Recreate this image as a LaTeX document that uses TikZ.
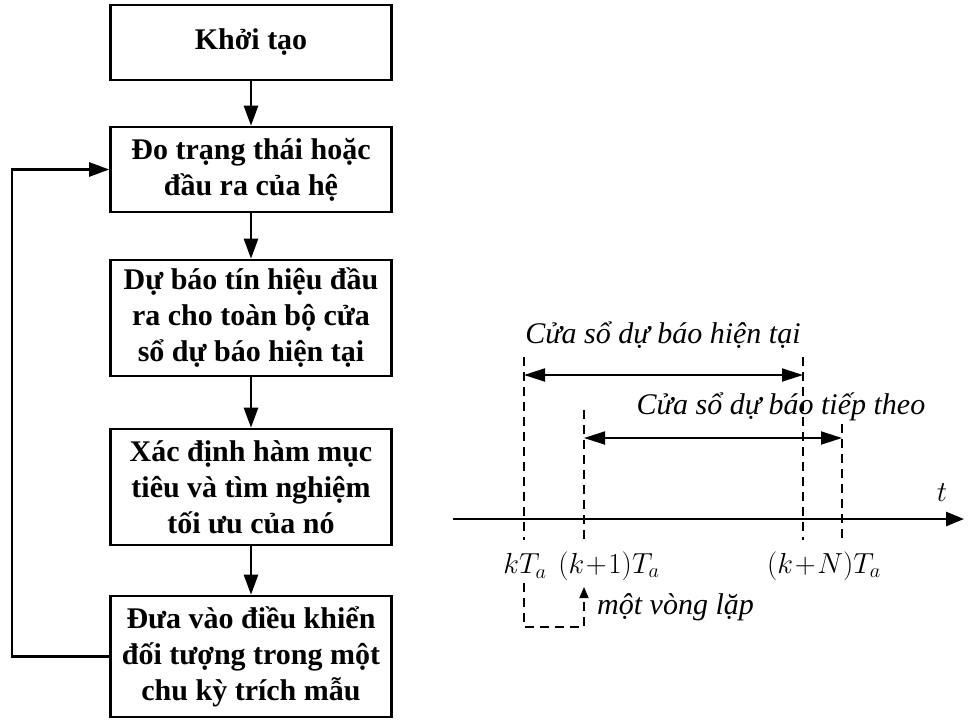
\RequirePackage{fix-cm}
\documentclass[tikz,border=0pt]{standalone}
\usepackage{fontspec}
\setmainfont{Liberation Serif}
\usetikzlibrary{arrows.meta}

\tikzset{
  stepbox/.style={draw, line width=2.6pt, minimum width=281pt, align=center,
    inner sep=0pt, font=\fontsize{30}{36}\selectfont\bfseries},
  flow/.style={line width=2.6pt, -{Triangle[length=20pt,width=14pt]}},
  guide/.style={line width=1.6pt, dash pattern=on 9pt off 6pt},
  span/.style={line width=1.8pt, {Triangle[length=21pt,width=13pt]}-{Triangle[length=21pt,width=13pt]}},
  caption/.style={font=\fontsize{30}{34}\selectfont\itshape, inner sep=0pt},
  mlabel/.style={font=\fontsize{29}{33}\selectfont, inner sep=0pt}
}
\newcommand{\tplus}{\mkern1mu{+}\mkern1mu}

\begin{document}
\begin{tikzpicture}[x=1pt, y=-1pt]
\useasboundingbox (0,0) rectangle (970,720);

% flowchart of the control loop
\node[stepbox, minimum height=75pt]  (b1) at (251,42.5) {Khởi tạo};
\node[stepbox, minimum height=85pt]  (b2) at (251,169.5) {Đo trạng thái hoặc\\đầu ra của hệ};
\node[stepbox, minimum height=116pt] (b3) at (251,318) {Dự báo tín hiệu đầu\\ra cho toàn bộ cửa\\sổ dự báo hiện tại};
\node[stepbox, minimum height=116pt] (b4) at (251,487) {Xác định hàm mục\\tiêu và tìm nghiệm\\tối ưu của nó};
\node[stepbox, minimum height=121pt] (b5) at (251,656.5) {Đưa vào điều khiển\\đối tượng trong một\\chu kỳ trích mẫu};

\draw[flow] (b1) -- (b2);
\draw[flow] (b2) -- (b3);
\draw[flow] (b3) -- (b4);
\draw[flow] (b4) -- (b5);
\coordinate (fbBottom) at (12,656.5);
\coordinate (fbTop) at (12,169.5);
\draw[flow] (b5.west) -- (fbBottom) -- (fbTop) -- (b2.west);

% time axis
\coordinate (axStart) at (453,519);
\coordinate (axEnd) at (964,519);
\draw[line width=2.6pt, -{Triangle[length=18pt,width=14pt]}] (axStart) -- (axEnd);
\node[mlabel] (tlab) at (942,493) {$t$};

% sampling instants
\coordinate (kTop) at (524,357);   \coordinate (kBot) at (524,540);
\coordinate (k1Top) at (584,410);  \coordinate (k1Bot) at (584,540);
\coordinate (kNTop) at (803,357);  \coordinate (kNBot) at (803,540);
\coordinate (kN1Top) at (842,424); \coordinate (kN1Bot) at (842,540);
\draw[guide] (kTop) -- (kBot);
\draw[guide] (k1Top) -- (k1Bot);
\draw[guide] (kNTop) -- (kNBot);
\draw[guide] (kN1Top) -- (kN1Bot);

\node[mlabel] (lk) at (525,566) {$kT_a$};
\node[mlabel] (lk1) at (609,566) {$(k\tplus 1)T_a$};
\node[mlabel] (lkN) at (824,566) {$(k\tplus N)T_a$};

% prediction windows
\coordinate (w1a) at (524,375); \coordinate (w1b) at (803,375);
\coordinate (w2a) at (584,438); \coordinate (w2b) at (842,438);
\draw[span] (w1a) -- (w1b);
\draw[span] (w2a) -- (w2b);
\node[caption] (c1) at (663,335) {Cửa sổ dự báo hiện tại};
\node[caption] (c2) at (781,407) {Cửa sổ dự báo tiếp theo};

% one iteration shift
\coordinate (itA) at (524,583);
\coordinate (itB) at (524,627);
\coordinate (itC) at (584,627);
\coordinate (itD) at (584,587);
\draw[guide, -{Triangle[length=11pt,width=9pt]}] (itA) -- (itB) -- (itC) -- (itD);
\node[caption, anchor=west] (c3) at (597,607) {một vòng lặp};
\end{tikzpicture}
\end{document}
